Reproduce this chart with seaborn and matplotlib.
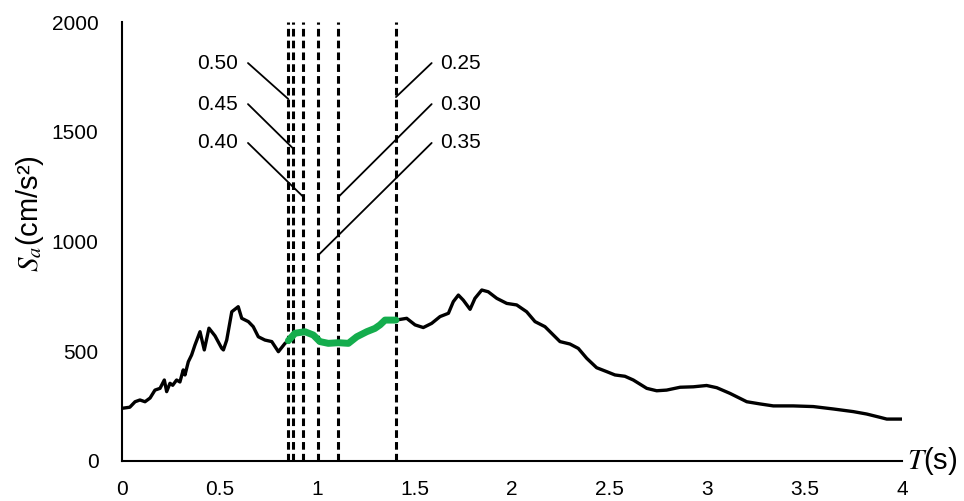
import numpy as np
import pandas as pd
import matplotlib
matplotlib.use("Agg")
import matplotlib.pyplot as plt
import seaborn as sns

# Response spectrum: period T (s) and spectral acceleration Sa (cm/s^2)
period = [0.0, 0.04, 0.067, 0.092, 0.118, 0.144, 0.169, 0.195, 0.217, 0.229,
          0.246, 0.26, 0.28, 0.297, 0.314, 0.323, 0.34, 0.357, 0.374, 0.40,
          0.422, 0.446, 0.477, 0.511, 0.52, 0.537, 0.563, 0.596, 0.614, 0.648,
          0.673, 0.699, 0.733, 0.768, 0.802, 0.836, 0.853, 0.887, 0.938, 0.981,
          1.015, 1.058, 1.109, 1.161, 1.204, 1.255, 1.297, 1.323, 1.349, 1.405,
          1.46, 1.503, 1.545, 1.588, 1.631, 1.674, 1.699, 1.725, 1.75, 1.785,
          1.81, 1.845, 1.878, 1.922, 1.973, 2.024, 2.075, 2.118, 2.169, 2.212,
          2.246, 2.297, 2.34, 2.383, 2.434, 2.486, 2.528, 2.579, 2.622, 2.691,
          2.742, 2.793, 2.862, 2.93, 2.998, 3.05, 3.118, 3.204, 3.272, 3.34,
          3.442, 3.545, 3.648, 3.75, 3.819, 3.887, 3.922, 4.0]
sa = [240, 245, 270, 278, 270, 287, 323, 331, 369, 316,
      354, 345, 369, 360, 415, 392, 452, 483, 528, 589,
      506, 605, 570, 514, 506, 551, 680, 703, 650, 635,
      612, 566, 551, 544, 498, 536, 548, 582, 589, 574,
      544, 536, 539, 536, 566, 589, 604, 620, 642, 642,
      650, 620, 608, 627, 658, 673, 726, 756, 733, 691,
      741, 779, 771, 741, 718, 711, 680, 635, 612, 574,
      544, 533, 513, 468, 425, 407, 392, 386, 369, 331,
      320, 323, 336, 338, 344, 334, 308, 270, 260, 251,
      251, 248, 237, 225, 214, 199, 191, 191]

# Marked periods and their labels
mark_periods = [0.853, 0.875, 0.930, 1.007, 1.110, 1.405]
mark_labels = ["0.50", "0.45", "0.40", "0.35", "0.30", "0.25"]

# Callout geometry (data coordinates): text anchor and leader-line ends
label_x = [0.595, 0.595, 0.595, 1.631, 1.631, 1.631]
label_ty = [1813, 1626, 1449, 1449, 1626, 1813]
leader_x0 = [0.646, 0.646, 0.646, 1.588, 1.588, 1.588]
leader_y1 = [1649, 1426, 1203, 938, 1203, 1658]

sns.set_style("white")
plt.rcParams["font.family"] = ["Liberation Sans", "DejaVu Sans"]
plt.rcParams["mathtext.fontset"] = "stix"
plt.rcParams["lines.scale_dashes"] = False
plt.rcParams["text.color"] = "black"
plt.rcParams["axes.labelcolor"] = "black"
plt.rcParams["xtick.color"] = "black"
plt.rcParams["ytick.color"] = "black"

df = pd.DataFrame({"T": period, "Sa": sa})
lo, hi = mark_periods[0], mark_periods[-1]
seg = df[(df["T"] >= lo - 1e-9) & (df["T"] <= hi + 1e-9)]

fig = plt.figure(figsize=(9.64, 5.01), dpi=100)
ax = fig.add_axes([122 / 964, 1 - 461 / 501, 780 / 964, 439 / 501])

for t in mark_periods:
    ax.axvline(t, color="black", lw=2.2, linestyle=(0, (5.5, 3.0)), zorder=1)

sns.lineplot(data=df, x="T", y="Sa", ax=ax, color="black", lw=2.4,
             zorder=3, sort=False)
sns.lineplot(data=seg, x="T", y="Sa", ax=ax, color="#14ad4d", lw=5.0,
             zorder=4, sort=False)

for i, lab in enumerate(mark_labels):
    t = mark_periods[i]
    ty = label_ty[i]
    ax.plot([leader_x0[i], t], [ty, leader_y1[i]], color="black", lw=1.3,
            zorder=2)
    ha = "right" if leader_x0[i] < t else "left"
    ax.text(label_x[i], ty, lab, ha=ha, va="center", fontsize=15)

ax.set_xlim(0, 4)
ax.set_ylim(0, 2000)
ax.set_xticks([0, 0.5, 1, 1.5, 2, 2.5, 3, 3.5, 4])
ax.set_xticklabels(["0", "0.5", "1", "1.5", "2", "2.5", "3", "3.5", "4"])
ax.set_yticks([0, 500, 1000, 1500, 2000])
ax.tick_params(axis="both", direction="in", length=5, width=1.3,
               labelsize=15, color="black")
ax.tick_params(axis="y", pad=17)
ax.tick_params(axis="x", pad=14)
for side in ["top", "right"]:
    ax.spines[side].set_visible(False)
for side in ["left", "bottom"]:
    ax.spines[side].set_color("black")
    ax.spines[side].set_linewidth(1.5)

ax.set_xlabel("")
ax.set_ylabel(r"$S_a$(cm/s²)", fontsize=21)
ax.yaxis.set_label_coords(-0.098, 0.563)
ax.text(1.006, 0.0, r"$T$(s)", transform=ax.transAxes, ha="left",
        va="center", fontsize=21)

fig.savefig("out.png", dpi=100)
